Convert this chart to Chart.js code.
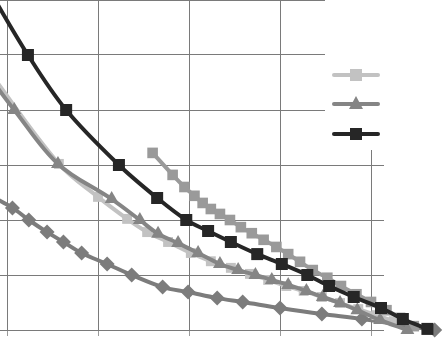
<!DOCTYPE html>
<html>
<head>
<meta charset="UTF-8">
<style>
  body { margin: 0; background: #fff; }
  canvas { display: block; }
</style>
</head>
<body>
<canvas id="chartCanvas" width="443" height="338"></canvas>
<script src="https://cdn.jsdelivr.net/npm/chart.js"></script>
<script>
// values (x grid = 10, y grid = 10)
const blackX = [-2.1, 2.3, 6.5, 12.3, 16.5, 19.7, 22.1, 24.6, 27.5, 30.2, 33.0, 35.4, 38.1, 41.1, 43.5, 46.2];
const blackY = [62.2, 50.0, 40.0, 30.0, 24.0, 20.0, 18.0, 16.0, 13.8, 12.0, 10.0, 8.0, 6.0, 4.0, 2.0, 0.2];

const upperX = [16.0, 18.2, 19.5, 20.6, 21.5, 22.4, 23.4, 24.5, 25.7, 26.9, 28.2, 29.6, 30.9, 32.2, 33.6, 35.2, 36.7, 38.4, 40.0, 41.7, 43.2, 44.7];
const upperY = [32.2, 28.2, 26.0, 24.4, 23.1, 22.0, 21.1, 20.0, 18.7, 17.6, 16.4, 15.1, 13.8, 12.4, 10.9, 9.5, 8.0, 6.5, 5.1, 3.6, 2.2, 0.7];

const lightX = [-2.1, 5.7, 10.0, 13.2, 15.4, 17.7, 20.2, 22.4, 24.6, 26.7, 28.7, 30.7, 32.6, 34.6, 36.6, 38.6, 40.6, 42.5];
const lightY = [47.3, 30.2, 24.2, 20.2, 17.8, 16.0, 14.0, 12.5, 11.3, 10.2, 9.1, 8.0, 7.1, 6.0, 4.9, 3.8, 2.7, 1.6];

const triX = [-1.7, 0.8, 5.6, 11.5, 14.6, 16.6, 18.8, 21.0, 23.4, 25.4, 27.3, 29.1, 30.9, 32.9, 34.7, 36.6, 38.5, 41.0, 44.0];
const triY = [45.5, 40.0, 30.2, 23.8, 20.0, 17.5, 15.8, 14.0, 12.0, 10.9, 10.0, 9.1, 8.2, 7.1, 6.0, 4.9, 3.6, 1.8, 0.0];

const diaX = [-1.9, 0.6, 2.4, 4.4, 6.2, 8.2, 11.0, 13.7, 17.1, 19.9, 23.1, 25.9, 30.0, 34.6, 39.0, 47.0];
const diaY = [24.5, 22.2, 20.0, 17.8, 16.0, 14.0, 12.0, 10.0, 7.8, 6.9, 5.8, 5.1, 4.0, 2.9, 2.0, 0.0];

const colBlack = '#262626';
const colUpper = '#9a9a9a';
const colLight = '#c2c2c2';
const colTri = '#858585';
const colDia = '#7c7c7c';

function pts(xs, ys) {
    return xs.map((x, i) => ({ x: x, y: ys[i] }));
}

function series(xs, ys, color, style, radius) {
    return {
        data: pts(xs, ys),
        borderColor: color,
        backgroundColor: color,
        pointBackgroundColor: color,
        pointBorderColor: color,
        pointBorderWidth: 0,
        pointStyle: style,
        pointRadius: radius,
        borderWidth: 4,
        tension: 0.35,
        clip: false
    };
}

// grid stops at x=383 and under the legend; the legend labels fall outside the picture
const legendBox = {
    id: 'legendBox',
    beforeDatasetsDraw(chart) {
        const ctx = chart.ctx;
        ctx.save();
        ctx.fillStyle = '#fff';
        ctx.fillRect(384, 0, 59, 338);
        ctx.fillRect(325, 0, 118, 150);
        ctx.restore();
    },
    afterDatasetsDraw(chart) {
        const ctx = chart.ctx;
        ctx.save();
        const rows = [
            { y: 75, color: colLight, shape: 'square' },
            { y: 104, color: colTri, shape: 'triangle' },
            { y: 134, color: colBlack, shape: 'square' }
        ];
        rows.forEach(r => {
            ctx.strokeStyle = r.color;
            ctx.lineWidth = 4;
            ctx.lineCap = 'round';
            ctx.beginPath();
            ctx.moveTo(334, r.y);
            ctx.lineTo(378, r.y);
            ctx.stroke();
            ctx.fillStyle = r.color;
            if (r.shape === 'square') {
                ctx.fillRect(350, r.y - 6, 12, 12);
            } else {
                ctx.beginPath();
                ctx.moveTo(356, r.y - 8);
                ctx.lineTo(363, r.y + 5);
                ctx.lineTo(349, r.y + 5);
                ctx.closePath();
                ctx.fill();
            }
        });
        ctx.restore();
    }
};

const ctx = document.getElementById('chartCanvas').getContext('2d');
new Chart(ctx, {
    type: 'line',
    data: {
        datasets: [
            series(blackX, blackY, colBlack, 'rect', 8.5),
            series(triX, triY, colTri, 'triangle', 8),
            series(lightX, lightY, colLight, 'rect', 7),
            series(upperX, upperY, colUpper, 'rect', 7.5),
            series(diaX, diaY, colDia, 'rectRot', 7.5)
        ]
    },
    options: {
        responsive: false,
        animation: false,
        devicePixelRatio: 1,
        layout: { autoPadding: false, padding: 0 },
        plugins: {
            legend: { display: false },
            tooltip: { enabled: false }
        },
        scales: {
            x: {
                type: 'linear',
                min: -7 / 9.1,
                max: 436 / 9.1,
                ticks: { display: false, stepSize: 10, includeBounds: false },
                grid: { color: '#7a7a7a', lineWidth: 1, drawTicks: true, tickLength: 6, tickColor: '#9a9a9a' },
                border: { display: true, color: '#7a7a7a' },
                afterFit(scale) { scale.height = 8; }
            },
            y: {
                min: 0,
                max: 60,
                ticks: { display: false, stepSize: 10 },
                grid: { color: '#7a7a7a', lineWidth: 1, drawTicks: false },
                border: { display: false },
                afterFit(scale) { scale.width = 0; }
            }
        }
    },
    plugins: [legendBox]
});
</script>
</body>
</html>
